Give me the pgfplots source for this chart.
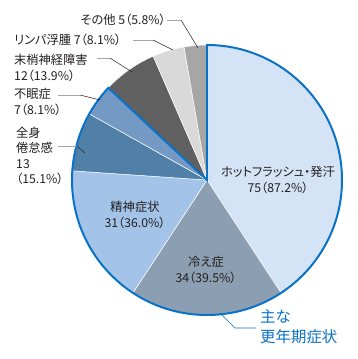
\documentclass[border=0pt]{standalone}
\usepackage{pgfplots}
\pgfplotsset{compat=1.18}
\usepackage{pgfplotstable}
\usepackage{fontspec}
\setmainfont{Noto Sans CJK JP}[RawFeature={+palt}]
\definecolor{c0}{HTML}{D4E3F5}
\definecolor{c1}{HTML}{8C9EB2}
\definecolor{c2}{HTML}{A3C4E8}
\definecolor{c3}{HTML}{5080A8}
\definecolor{c4}{HTML}{7399C4}
\definecolor{c5}{HTML}{606060}
\definecolor{c6}{HTML}{D9D9D9}
\definecolor{c7}{HTML}{A6A6A6}
\definecolor{bl}{HTML}{0A72C6}
\definecolor{txt}{HTML}{231F20}
\pgfplotstableread{
label value
hot 75
hie 34
seishin 31
zenshin 13
fumin 7
masho 12
lymph 7
other 5
}\piedata
\begin{document}
\def\total{0}%
\pgfplotsforeachungrouped \i in {0,...,7}{%
  \pgfplotstablegetelem{\i}{value}\of\piedata
  \pgfmathsetmacro\total{\total+\pgfplotsretval}%
}%
\def\cum{0}%
\pgfplotsforeachungrouped \i in {0,...,7}{%
  \pgfplotstablegetelem{\i}{value}\of\piedata
  \pgfmathsetmacro\a{90-(\cum/\total)*360}%
  \pgfmathsetmacro\cum{\cum+\pgfplotsretval}%
  \pgfmathsetmacro\b{90-(\cum/\total)*360}%
  \expandafter\xdef\csname angs\i\endcsname{\a}%
  \expandafter\xdef\csname ange\i\endcsname{\b}%
}%
\begin{tikzpicture}[font=\fontsize{12.3}{15.5}\selectfont]
\begin{axis}[
  x=1bp, y=1bp, xmin=0, xmax=358, ymin=0, ymax=359, y dir=reverse,
  hide axis, clip=false, scale only axis,
]
\addplot[draw=none] coordinates {(0,0) (358,359)};
\pgfplotsinvokeforeach{0,...,7}{
  \fill[c#1, draw=white, line width=0.5pt] (axis cs:207,180) -- ++(\csname angs#1\endcsname:135bp)
    arc[start angle=\csname angs#1\endcsname, end angle=\csname ange#1\endcsname, radius=135bp] -- cycle;
}
\draw[bl, line width=2pt, line join=miter] (axis cs:207,180) -- ++(90:135bp)
    arc[start angle=90, end angle=\csname ange4\endcsname, radius=135bp] -- cycle;
% leader lines
\draw[gray!70, line width=0.6pt] (axis cs:167,20) -- (axis cs:181,20);
\draw[txt, line width=0.5pt] (axis cs:181,20) -- (axis cs:198,48);
\draw[gray!70, line width=0.6pt] (axis cs:133,40) -- (axis cs:153,40);
\draw[txt, line width=0.5pt] (axis cs:153,40) -- (axis cs:173,50);
\draw[gray!70, line width=0.6pt] (axis cs:97,58) -- (axis cs:110,58);
\draw[txt, line width=0.5pt] (axis cs:110,58) -- (axis cs:132,72);
\draw[gray!70, line width=0.6pt] (axis cs:58,95) -- (axis cs:80,95);
\draw[txt, line width=0.5pt] (axis cs:80,95) -- (axis cs:100,100);
\draw[gray!70, line width=0.6pt] (axis cs:58,146) -- (axis cs:77,146);
\draw[txt, line width=0.5pt] (axis cs:77,146) -- (axis cs:85,153);
\draw[bl, line width=0.6pt] (axis cs:220,313) -- (axis cs:235,328) -- (axis cs:256,328);
% labels
\node[txt, anchor=east, inner sep=0pt] at (axis cs:166,20) {その他 5（5.8\%）};
\node[txt, anchor=west, inner sep=0pt] at (axis cs:14,40) {リンパ浮腫 7（8.1\%）};
\node[txt, anchor=west, inner sep=0pt, align=left] at (axis cs:14,68) {末梢神経障害\\12（13.9\%）};
\node[txt, anchor=west, inner sep=0pt, align=left] at (axis cs:14,102) {不眠症\\7（8.1\%）};
\node[txt, anchor=west, inner sep=0pt, align=left] at (axis cs:16,156) {全身\\倦怠感\\13\\（15.1\%）};
\node[txt, inner sep=0pt, align=center] at (axis cs:135,215) {精神症状\\31（36.0\%）};
\node[txt, inner sep=0pt, align=center] at (axis cs:206,270) {冷え症\\34（39.5\%）};
\node[txt, inner sep=0pt, align=center] at (axis cs:278,180) {ホットフラッシュ・発汗\\75（87.2\%）};
\node[bl, anchor=west, inner sep=0pt, align=left, font=\fontsize{15.5}{20}\selectfont] at (axis cs:260,327) {主な\\更年期症状};
\end{axis}
\end{tikzpicture}
\end{document}
